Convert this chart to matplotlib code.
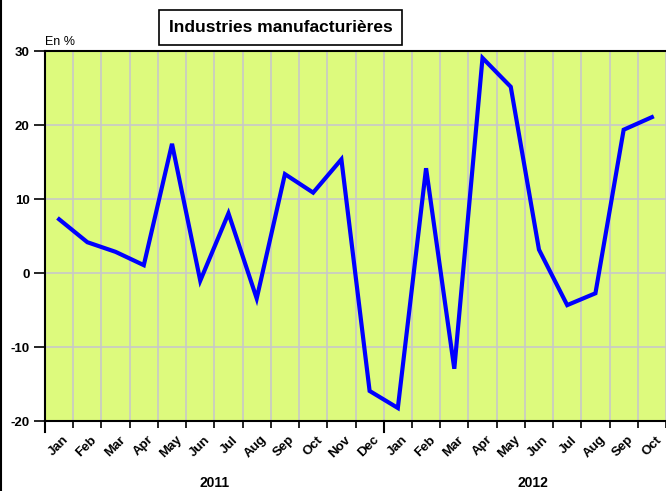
import matplotlib
matplotlib.use("Agg")
import matplotlib.pyplot as plt
import matplotlib.transforms as mtrans
from matplotlib.lines import Line2D
import numpy as np

plt.rcParams['font.family'] = ['Liberation Sans', 'DejaVu Sans']

months = ["Jan", "Feb", "Mar", "Apr", "May", "Jun", "Jul", "Aug", "Sep", "Oct", "Nov", "Dec",
          "Jan", "Feb", "Mar", "Apr", "May", "Jun", "Jul", "Aug", "Sep", "Oct"]
values = [7.3, 4.2, 2.9, 1.1, 17.5, -1.0, 8.1, -3.4, 13.4, 10.9, 15.4, -15.9,
          -18.2, 14.2, -12.9, 29.1, 25.2, 3.2, -4.3, -2.7, 19.4, 21.1]
years = ["2011", "2012"]
year_pos = [5.5, 16.8]
yticks = [-20, -10, 0, 10, 20, 30]
title = "Industries manufacturières"
unit = "En %"

W, H = 666, 491
fig = plt.figure(figsize=(W / 100, H / 100), dpi=100)
ax = fig.add_axes([45 / W, 1 - 421.3 / H, 1 - 45 / W, (421.3 - 51.3) / H])
ax.set_facecolor('#ddfa7d')

x = np.arange(len(values))
ax.plot(x, values, color='#0000ff', lw=3, solid_joinstyle='miter', zorder=3)

ax.set_xlim(-0.5, len(values) - 0.5)
ax.set_ylim(-20, 30)

bounds = np.arange(-0.5, len(values), 1.0)
ax.set_xticks(bounds)
ax.set_xticklabels([])
ax.set_xticks(x, minor=True)
ax.set_xticklabels(months, minor=True, rotation=45, ha='right', rotation_mode='anchor',
                   fontsize=9.5, fontweight='bold')
ax.tick_params(axis='x', which='major', length=5, width=1.2, direction='out', color='black')
ax.tick_params(axis='x', which='minor', length=0, pad=9)
offset = mtrans.ScaledTranslation(3.5 / 100, 0, fig.dpi_scale_trans)
for lab in ax.get_xticklabels(minor=True):
    lab.set_transform(lab.get_transform() + offset)

ax.set_yticks(yticks)
ax.set_yticklabels([str(v) for v in yticks], fontsize=9.5, fontweight='bold')
ax.tick_params(axis='y', length=8, width=1.2, direction='out', pad=3)

ax.grid(True, which='major', color='#c8c8c8', lw=1.2, zorder=1)
ax.set_axisbelow(True)

for s in ['left', 'top', 'bottom']:
    ax.spines[s].set_linewidth(1.5)
    ax.spines[s].set_color('black')
ax.spines['right'].set_visible(False)

# longer ticks at year boundaries
for xb in [-0.5, 11.5]:
    ax.plot([xb, xb], [0, -0.03], transform=ax.get_xaxis_transform(), color='black',
            lw=1.5, clip_on=False, zorder=5)

ytr = mtrans.blended_transform_factory(ax.transData, fig.transFigure)
for yl, yp in zip(years, year_pos):
    ax.text(yp, 1 - 483 / H, yl, transform=ytr, ha='center', va='center',
            fontsize=10, fontweight='bold')

fig.text(45 / W, 1 - 42 / H, unit, fontsize=9, ha='left', va='center')

fig.text(280.5 / W, 1 - 27.5 / H, title, fontsize=12.5, fontweight='bold', ha='center', va='center',
         bbox=dict(boxstyle='square,pad=0.55', facecolor='white', edgecolor='black', lw=1.2))

fig.add_artist(Line2D([0.5 / W, 0.5 / W], [0, 1], transform=fig.transFigure, color='black', lw=1.5))

fig.savefig('out.png', dpi=100)
